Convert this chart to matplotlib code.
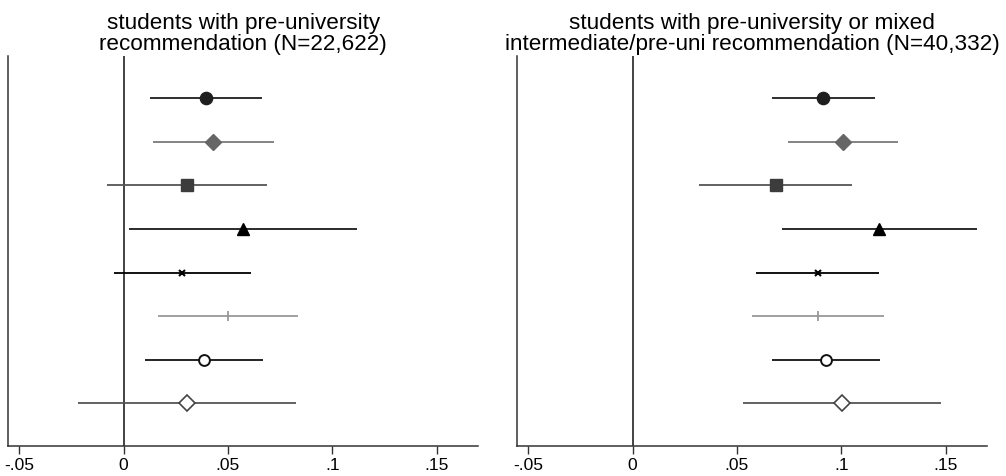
import matplotlib
matplotlib.use("Agg")
import matplotlib.pyplot as plt
import numpy as np

plt.rcParams['font.family'] = ['Liberation Sans', 'DejaVu Sans']

# Row order from top to bottom; each row is one estimate with its 95% CI
rows = ["r1", "r2", "r3", "r4", "r5", "r6", "r7", "r8"]

# Panel 1: pre-university recommendation
est_pre = [0.0394, 0.0429, 0.0304, 0.0572, 0.0282, 0.0500, 0.0385, 0.0303]
lo_pre = [0.0126, 0.0141, -0.0079, 0.0027, -0.0048, 0.0163, 0.0102, -0.0221]
hi_pre = [0.0663, 0.0721, 0.0689, 0.1118, 0.0611, 0.0838, 0.0667, 0.0827]

# Panel 2: pre-university or mixed intermediate/pre-uni recommendation
est_mix = [0.0913, 0.1007, 0.0686, 0.1179, 0.0889, 0.0889, 0.0927, 0.1002]
lo_mix = [0.0668, 0.0743, 0.0320, 0.0714, 0.0590, 0.0571, 0.0668, 0.0529]
hi_mix = [0.1162, 0.1272, 0.1053, 0.1651, 0.1183, 0.1205, 0.1187, 0.1476]

titles = ["students with pre-university\nrecommendation (N=22,622)",
          "students with pre-university or mixed\nintermediate/pre-uni recommendation (N=40,332)"]
xticks = [-0.05, 0, 0.05, 0.1, 0.15]
xticklabels = ["-.05", "0", ".05", ".1", ".15"]

# marker style per row: (marker, size, face, edge, line colour)
styles = [
    dict(marker="o", ms=8.8, mfc="#1e1e1e", mec="#1e1e1e", color="#1e1e1e"),
    dict(marker="D", ms=8.0, mfc="#666666", mec="#666666", color="#7a7a7a"),
    dict(marker="s", ms=8.0, mfc="#3c3c3c", mec="#3c3c3c", color="#555555"),
    dict(marker="^", ms=8.4, mfc="#000000", mec="#000000", color="#1a1a1a"),
    dict(marker="x", ms=5.0, mfc="none", mec="#000000", color="#000000", mew=1.5),
    dict(marker="|", ms=7.0, mfc="none", mec="#999999", color="#999999", mew=1.3),
    dict(marker="o", ms=7.8, mfc="white", mec="#111111", color="#111111", mew=1.4),
    dict(marker="D", ms=7.8, mfc="white", mec="#444444", color="#555555", mew=1.2),
]

W, H = 1006, 477
fig = plt.figure(figsize=(W / 100, H / 100), dpi=100)

panels = [(est_pre, lo_pre, hi_pre, 8.3), (est_mix, lo_mix, hi_mix, 517.3)]
ypos = np.arange(len(rows), 0, -1)

for (est, lo, hi, left), title in zip(panels, titles):
    ax_w = 470.0
    ax = fig.add_axes([left / W, (H - 446.7) / H, ax_w / W, (446.7 - 57) / H])
    ax.set_xlim(-0.0553, 0.17)
    ax.set_ylim(0.03, 8.97)
    ax.axvline(0, color="#222222", lw=1.2, zorder=1)
    for y, e, l, h, st in zip(ypos, est, lo, hi, styles):
        ax.plot([l, h], [y, y], color=st["color"], lw=1.3, solid_capstyle="butt", zorder=2)
        ax.plot([e], [y], linestyle="none", marker=st["marker"], markersize=st["ms"],
                markerfacecolor=st["mfc"], markeredgecolor=st["mec"],
                markeredgewidth=st.get("mew", 1.0), zorder=3)
    for side in ("top", "right"):
        ax.spines[side].set_visible(False)
    ax.spines["left"].set_color("#333333")
    ax.spines["bottom"].set_color("#333333")
    ax.spines["left"].set_linewidth(1.1)
    ax.spines["bottom"].set_linewidth(1.1)
    ax.set_yticks([])
    ax.set_xticks(xticks)
    ax.set_xticklabels(xticklabels, fontsize=12.5)
    ax.tick_params(axis="x", length=6, width=1.0, color="#333333", pad=2)
    ax.set_title(title, fontsize=16.2, linespacing=1.0, pad=5)

fig.savefig("out.png", dpi=100)
